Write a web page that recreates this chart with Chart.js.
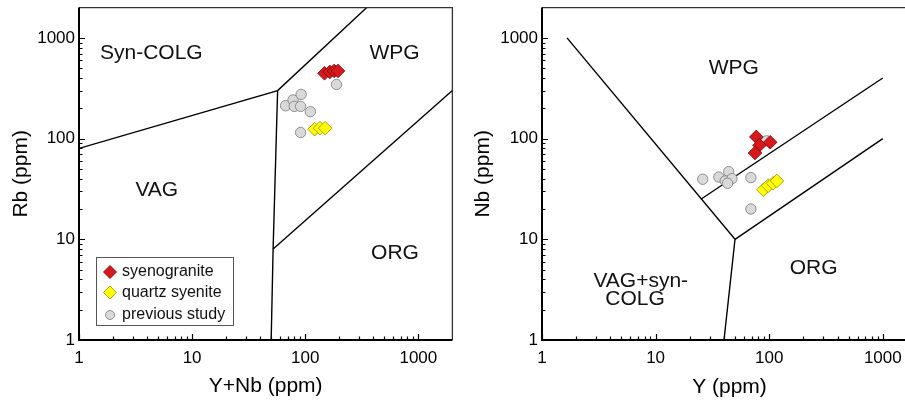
<!DOCTYPE html>
<html>
<head>
<meta charset="utf-8">
<script src="https://cdn.jsdelivr.net/npm/chart.js@4.4.0/dist/chart.umd.min.js"></script>
<style>
html, body { margin: 0; padding: 0; background: #fff; overflow: hidden; width: 905px; height: 401px; }
#left { position: absolute; left: 0; top: 0; }
#right { position: absolute; left: 460px; top: 0; }
</style>
</head>
<body>
<canvas id="left" width="460" height="401"></canvas>
<canvas id="right" width="470" height="401"></canvas>
<script>
// log axes, both plots
var tickValues = [1, 10, 100, 1000];
var axisMin = 1;
var axisMax = 2000;

// Rb vs (Y+Nb)
var rbSyenogranite = [{x:148, y:445}, {x:165, y:460}, {x:180, y:470}, {x:195, y:470}];
var rbQuartzSyenite = [{x:121, y:124}, {x:135, y:127}, {x:150, y:127}];
var rbPrevious = [{x:67, y:212}, {x:78, y:242}, {x:92, y:275}, {x:80, y:209}, {x:91, y:209},
                  {x:111, y:185}, {x:91, y:115}, {x:189, y:345}];
var rbBoundaries = [
  [{x:1, y:80}, {x:57, y:300}, {x:350, y:2000}],
  [{x:57, y:300}, {x:52, y:8}, {x:50, y:1}],
  [{x:52, y:8}, {x:2000, y:300}]
];
var rbFields = [
  {text:'Syn-COLG', x:4.36, y:710},
  {text:'WPG', x:615, y:710},
  {text:'VAG', x:4.87, y:31},
  {text:'ORG', x:622, y:7.2}
];

// Nb vs Y
var nbSyenogranite = [{x:77, y:104}, {x:82, y:86}, {x:102, y:92}, {x:75, y:72}];
var nbQuartzSyenite = [{x:89, y:31}, {x:98, y:34}, {x:108, y:36}, {x:117, y:38}];
var nbPrevious = [{x:26, y:39.5}, {x:36, y:41.5}, {x:44, y:47}, {x:41, y:38}, {x:47, y:40},
                  {x:43, y:36}, {x:69, y:41}, {x:69, y:20}, {x:95, y:95}];
var nbBoundaries = [
  [{x:1.66, y:1000}, {x:50, y:10}, {x:40, y:1}],
  [{x:50, y:10}, {x:1000, y:100}],
  [{x:25, y:25}, {x:1000, y:400}]
];
var nbFields = [
  {text:'WPG', x:48.8, y:506},
  {text:'ORG', x:246, y:5.2},
  {text:'VAG+syn-', x:7.4, y:3.83},
  {text:'COLG', x:6.6, y:2.53}
];

var legendNames = ['syenogranite', 'quartz syenite', 'previous study'];

Chart.defaults.font.family = '"Liberation Sans", Arial, sans-serif';
Chart.defaults.color = '#000';

var redStyle = {pointStyle:'rectRot', radius:6.8, backgroundColor:'#d7191c', borderColor:'#6e0000'};
var yellowStyle = {pointStyle:'rectRot', radius:6.8, backgroundColor:'#ffff00', borderColor:'#9a8c00'};
var grayStyle = {pointStyle:'circle', radius:5.2, backgroundColor:'#d9d9d9', borderColor:'#7a7a7a'};

function pointSet(label, data, st) {
  return {
    label: label, data: data,
    pointStyle: st.pointStyle, pointRadius: st.radius,
    backgroundColor: st.backgroundColor, borderColor: st.borderColor,
    pointBorderWidth: 0.8, showLine: false
  };
}

function lineSet(data) {
  return { data: data, showLine: true, pointRadius: 0, borderColor: '#000', borderWidth: 1.4, fill: false };
}

// frame + inward log ticks
var frameTicks = {
  id: 'frameTicks',
  afterDraw: function(chart) {
    var c = chart.ctx, a = chart.chartArea, xs = chart.scales.x, ys = chart.scales.y;
    c.save();
    c.strokeStyle = '#333';
    c.lineWidth = 1.3;
    c.beginPath();
    c.moveTo(a.left, a.top); c.lineTo(a.right, a.top); c.lineTo(a.right, a.bottom);
    c.stroke();
    c.strokeStyle = '#000';
    c.lineWidth = 2;
    c.beginPath();
    c.moveTo(a.left, a.top); c.lineTo(a.left, a.bottom); c.lineTo(a.right, a.bottom);
    c.stroke();
    c.lineWidth = 1.2;
    c.beginPath();
    [1, 10, 100, 1000].forEach(function(d) {
      for (var m = 1; m <= 9; m++) {
        if (d == 1000 && m > 1) break;
        var v = d * m, len = (m == 1) ? 6 : 3.5;
        var px = Math.round(xs.getPixelForValue(v)) + 0.5;
        c.moveTo(px, a.bottom); c.lineTo(px, a.bottom - len);
        var py = Math.round(ys.getPixelForValue(v)) + 0.5;
        c.moveTo(a.left, py); c.lineTo(a.left + len, py);
      }
    });
    c.stroke();
    c.restore();
  }
};

var fieldLabels = {
  id: 'fieldLabels',
  afterDatasetsDraw: function(chart, args, opts) {
    var c = chart.ctx;
    c.save();
    c.font = '21px "Liberation Sans", Arial, sans-serif';
    c.fillStyle = '#111';
    c.textAlign = 'center';
    c.textBaseline = 'middle';
    opts.items.forEach(function(f) {
      c.fillText(f.text, chart.scales.x.getPixelForValue(f.x), chart.scales.y.getPixelForValue(f.y));
    });
    c.restore();
  }
};

var boxLegend = {
  id: 'boxLegend',
  afterDraw: function(chart, args, opts) {
    if (!opts.show) return;
    var c = chart.ctx, a = chart.chartArea;
    var bx = a.left + 17, by = a.bottom - 83, bw = 137, bh = 68;
    c.save();
    c.fillStyle = '#fff';
    c.fillRect(bx, by, bw, bh);
    c.strokeStyle = '#555';
    c.lineWidth = 1;
    c.strokeRect(bx + 0.5, by + 0.5, bw, bh);
    var styles = [redStyle, yellowStyle, grayStyle];
    var rows = [15, 35.5, 58];
    c.font = '16px "Liberation Sans", Arial, sans-serif';
    c.textBaseline = 'middle';
    c.textAlign = 'left';
    for (var i = 0; i < 3; i++) {
      var st = styles[i];
      c.fillStyle = st.backgroundColor;
      c.strokeStyle = st.borderColor;
      c.lineWidth = 0.8;
      Chart.helpers.drawPoint(c, {pointStyle: st.pointStyle, radius: i == 2 ? 4.5 : 6.5, rotation: 0, borderWidth: 0.8},
        bx + 14, by + rows[i]);
      c.fillStyle = '#111';
      c.fillText(legendNames[i], bx + 26, by + rows[i]);
    }
    c.restore();
  }
};

function logAxis(axis, title, size, titlePad) {
  return {
    type: 'logarithmic', min: axisMin, max: axisMax,
    grid: { display: false, drawTicks: false },
    border: { display: false },
    afterBuildTicks: function(s) { s.ticks = tickValues.map(function(v) { return {value: v}; }); },
    afterFit: function(s) {
      if (axis == 'x') { s.height = size; s.paddingLeft = 0; s.paddingRight = 0; }
      else { s.width = size; s.paddingTop = 0; s.paddingBottom = 0; }
    },
    ticks: {
      callback: function(v) { return String(v); },
      font: { size: 17 }, color: '#000',
      padding: axis == 'x' ? 8 : 4, autoSkip: false, maxRotation: 0
    },
    title: { display: true, text: title, font: { size: 21 }, color: '#000', padding: titlePad }
  };
}

function makeChart(id, sets, lines, fields, xTitle, yTitle, yWidth, yTitlePad, xTitlePad, padRight, legendOn) {
  var datasets = [
    pointSet(legendNames[0], sets[0], redStyle),
    pointSet(legendNames[1], sets[1], yellowStyle),
    pointSet(legendNames[2], sets[2], grayStyle)
  ];
  lines.forEach(function(l) { datasets.push(lineSet(l)); });
  return new Chart(document.getElementById(id), {
    type: 'scatter',
    data: { datasets: datasets },
    options: {
      responsive: false, animation: false, events: [],
      layout: { padding: { left: 0, right: padRight, top: 7, bottom: 0 } },
      scales: {
        x: logAxis('x', xTitle, 61, xTitlePad),
        y: logAxis('y', yTitle, yWidth, yTitlePad)
      },
      plugins: {
        legend: { display: false },
        tooltip: { enabled: false },
        fieldLabels: { items: fields },
        boxLegend: { show: legendOn }
      }
    },
    plugins: [frameTicks, fieldLabels, boxLegend]
  });
}

makeChart('left', [rbSyenogranite, rbQuartzSyenite, rbPrevious], rbBoundaries, rbFields,
  'Y+Nb (ppm)', 'Rb (ppm)', 79, {top: 9, bottom: 0}, {top: 0, bottom: 2}, 6, true);
makeChart('right', [nbSyenogranite, nbQuartzSyenite, nbPrevious], nbBoundaries, nbFields,
  'Y (ppm)', 'Nb (ppm)', 82, {top: 11, bottom: 0}, {top: 0, bottom: 1}, 13, false);
</script>
</body>
</html>
